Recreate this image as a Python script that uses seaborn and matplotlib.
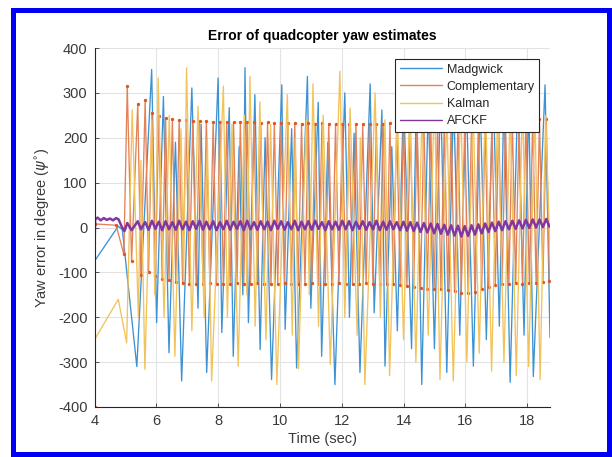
import matplotlib
matplotlib.use("Agg")
import matplotlib.pyplot as plt
import numpy as np
import pandas as pd
import seaborn as sns
from matplotlib.patches import Rectangle

# ---------------- data ----------------
series_names = ["Madgwick", "Complementary", "Kalman", "AFCKF"]

madgwick_t = [4.00, 4.77, 4.90, 5.37, 5.85, 6.01, 6.23, 6.41, 6.62, 6.82,
              7.15, 7.35, 7.45, 7.63, 8.00, 8.12, 8.36, 8.49, 8.68, 8.80,
              8.87, 8.98, 9.19, 9.36, 9.52, 9.73, 10.06, 10.17, 10.38, 10.54,
              10.89, 11.00, 11.24, 11.35, 11.55, 11.78, 12.10, 12.25, 12.40, 12.59,
              12.92, 13.05, 13.30, 13.40, 13.62, 13.80, 14.00, 14.26, 14.42, 14.59,
              14.80, 15.00, 15.20, 15.40, 15.62, 15.82, 16.03, 16.26, 16.48, 16.68,
              16.90, 17.10, 17.25, 17.45, 17.70, 17.90, 18.05, 18.20, 18.58, 18.74]
madgwick = [-75, 3, -5, -310, 352, -212, 292, -279, 190, -342,
            311, -180, 230, -323, 333, -234, 267, -287, 180, -150,
            356, -212, 296, -272, 200, -339, 318, -227, 220, -313,
            337, -180, 279, -287, 190, -350, 300, -200, 210, -323,
            320, -190, 262, -309, 180, -230, 290, -270, 300, -350,
            280, -270, 310, -323, 290, -240, 300, -309, 285, -250,
            320, -220, 295, -345, 305, -240, 290, -332, 318, -245]

kalman_t = [4.00, 4.77, 5.04, 5.22, 5.42, 5.50, 5.63, 5.85, 5.95, 6.06,
            6.25, 6.42, 6.60, 6.80, 6.88, 6.98, 7.15, 7.35, 7.55, 7.65,
            7.79, 8.17, 8.30, 8.45, 8.65, 8.85, 8.93, 9.03, 9.20, 9.35,
            9.55, 9.70, 9.90, 10.24, 10.40, 10.50, 10.60, 10.85, 10.95, 11.07,
            11.25, 11.40, 11.63, 11.94, 12.10, 12.27, 12.50, 12.60, 12.75, 13.08,
            13.25, 13.40, 13.55, 13.80, 14.00, 14.20, 14.40, 14.60, 14.80, 15.00,
            15.18, 15.40, 15.61, 15.85, 16.05, 16.25, 16.45, 16.65, 16.85, 17.05,
            17.25, 17.45, 17.65, 17.85, 18.05, 18.25, 18.42, 18.60, 18.74]
kalman = [-250, -160, -257, 262, -200, 150, -316, 240, -150, 333,
          -200, 250, -287, 220, -120, 356, -230, 270, -200, 200,
          -342, 315, -200, 230, -309, 250, -150, 337, -220, 280,
          -250, 230, -350, 296, -240, 200, -315, 240, -150, 320,
          -220, 250, -305, 348, -200, 266, -240, 200, -350, 300,
          -200, 240, -330, 260, -250, 280, -300, 260, -240, 300,
          -339, 260, -342, 280, -300, 270, -280, 290, -320, 270,
          -300, 260, -330, 280, -310, 260, -339, 250, -60]

comp_early_t = [4.00, 4.01, 4.70, 4.95]
comp_early = [-400, 8, 5, -60]

afckf_early_t = [4.00, 4.02, 4.10, 4.20, 4.30, 4.40, 4.50, 4.60, 4.70, 4.78, 4.88, 4.97]
afckf_early = [-45, 18, 22, 16, 21, 17, 20, 16, 21, 18, 2, -8]

fast_t = [5.06, 5.20, 5.40, 5.50, 5.64, 5.75, 5.86, 5.97, 6.08, 6.19,
          6.30, 6.41, 6.52, 6.63, 6.74, 6.85, 6.96, 7.07, 7.18, 7.29,
          7.40, 7.51, 7.62, 7.73, 7.84, 7.95, 8.06, 8.17, 8.28, 8.39,
          8.50, 8.61, 8.72, 8.83, 8.94, 9.05, 9.16, 9.27, 9.38, 9.49,
          9.60, 9.71, 9.82, 9.93, 10.04, 10.15, 10.26, 10.37, 10.48, 10.59,
          10.70, 10.81, 10.92, 11.03, 11.14, 11.25, 11.36, 11.47, 11.58, 11.69,
          11.80, 11.91, 12.02, 12.13, 12.24, 12.35, 12.46, 12.57, 12.68, 12.79,
          12.90, 13.01, 13.12, 13.23, 13.34, 13.45, 13.56, 13.67, 13.78, 13.89,
          14.00, 14.11, 14.22, 14.33, 14.44, 14.55, 14.66, 14.77, 14.88, 14.99,
          15.10, 15.21, 15.32, 15.43, 15.54, 15.65, 15.76, 15.87, 15.98, 16.09,
          16.20, 16.31, 16.42, 16.53, 16.64, 16.75, 16.86, 16.97, 17.08, 17.19,
          17.30, 17.41, 17.52, 17.63, 17.74, 17.85, 17.96, 18.07, 18.18, 18.29,
          18.40, 18.51, 18.62, 18.72]
comp_fast = [315, -75, 276, -105, 285, -100, 255, -108, 248, -115,
             244, -118, 242, -122, 240, -124, 240, -125, 238, -126,
             237, -125, 238, -124, 236, -125, 235, -126, 236, -125,
             234, -124, 235, -126, 234, -125, 235, -124, 233, -125,
             234, -126, 233, -125, 232, -124, 233, -125, 232, -126,
             231, -125, 232, -124, 231, -125, 232, -126, 231, -125,
             230, -124, 231, -125, 230, -126, 231, -125, 230, -124,
             231, -125, 230, -126, 231, -125, 232, -127, 231, -128,
             232, -130, 231, -132, 232, -135, 232, -136, 233, -138,
             232, -137, 233, -140, 232, -142, 233, -145, 232, -146,
             233, -143, 234, -138, 235, -132, 236, -128, 236, -126,
             237, -125, 238, -124, 238, -125, 239, -124, 240, -123,
             241, -122, 242, -120]
afckf_fast = [10, -6, 14, -4, 12, -5, 15, -3, 13, -6,
              14, -4, 12, -5, 15, -4, 13, -6, 14, -3,
              15, -5, 13, -4, 14, -6, 12, -4, 15, -5,
              13, -3, 14, -6, 15, -4, 12, -5, 14, -4,
              13, -6, 15, -3, 14, -5, 12, -4, 15, -6,
              13, -4, 14, -5, 15, -3, 12, -6, 14, -4,
              13, -5, 15, -4, 14, -6, 13, -3, 14, -5,
              12, -4, 15, -6, 13, -5, 14, -4, 12, -6,
              13, -7, 12, -8, 11, -10, 10, -11, 9, -13,
              8, -14, 6, -16, 5, -18, 4, -20, 3, -19,
              5, -16, 7, -13, 9, -10, 11, -8, 13, -6,
              14, -4, 15, -3, 16, -2, 17, -1, 18, 0,
              18, 1, 19, 2]

x_ticks = [4, 6, 8, 10, 12, 14, 16, 18]
y_ticks = [-400, -300, -200, -100, 0, 100, 200, 300, 400]

line_colors = {"Madgwick": "#3d92d3", "Complementary": "#e2825a",
               "Kalman": "#f1c35a", "AFCKF": "#8236a0"}
marker_color = "#dc5620"

# ---------------- figure ----------------
sns.set_theme(style="white")
plt.rcParams["font.family"] = ["Liberation Sans", "DejaVu Sans"]
plt.rcParams["mathtext.fontset"] = "dejavusans"
plt.rcParams["axes.unicode_minus"] = False

W, H = 612, 457
fig = plt.figure(figsize=(W / 100, H / 100), dpi=100)
fig.patch.set_facecolor("white")
ax_l, ax_r, ax_t, ax_b = 94.5, 550, 48, 407
ax = fig.add_axes([ax_l / W, 1 - ax_b / H, (ax_r - ax_l) / W, (ax_b - ax_t) / H])

df_m = pd.DataFrame({"t": madgwick_t, "v": madgwick})
df_c = pd.DataFrame({"t": comp_early_t + fast_t, "v": comp_early + comp_fast})
df_k = pd.DataFrame({"t": kalman_t, "v": kalman})
df_a = pd.DataFrame({"t": afckf_early_t + fast_t, "v": afckf_early + afckf_fast})

sns.lineplot(data=df_m, x="t", y="v", ax=ax, sort=False, estimator=None,
             color=line_colors["Madgwick"], lw=0.95, label="Madgwick")
sns.lineplot(data=df_c, x="t", y="v", ax=ax, sort=False, estimator=None,
             color=line_colors["Complementary"], lw=0.95, label="Complementary",
             marker="o", markersize=2.4, markeredgewidth=0,
             markerfacecolor=marker_color)
sns.lineplot(data=df_k, x="t", y="v", ax=ax, sort=False, estimator=None,
             color=line_colors["Kalman"], lw=0.95, label="Kalman")
sns.lineplot(data=df_a, x="t", y="v", ax=ax, sort=False, estimator=None,
             color=line_colors["AFCKF"], lw=1.8, label="AFCKF")

ax.set_xlim(4, 18.74)
ax.set_ylim(-400, 400)
ax.set_xticks(x_ticks)
ax.set_yticks(y_ticks)
ax.grid(True, color="#e3e3e3", lw=0.8)
ax.set_axisbelow(True)
for s in ["top", "right"]:
    ax.spines[s].set_visible(False)
for s in ["left", "bottom"]:
    ax.spines[s].set_color("#262626")
    ax.spines[s].set_linewidth(0.8)
ax.tick_params(direction="in", length=3, width=0.6, colors="#3a3a3a",
               labelsize=10.5, pad=5, bottom=True, left=True)

ax.set_title("Error of quadcopter yaw estimates", fontsize=10,
             fontweight="bold", pad=6, color="black")
ax.set_xlabel("Time (sec)", fontsize=10.5, labelpad=3, color="#3a3a3a")
ax.set_ylabel(r"Yaw error in degree ($\psi^{\circ}$)", fontsize=10.5,
              labelpad=4, color="#3a3a3a")

leg = ax.legend(loc="upper right", bbox_to_anchor=(0.976, 0.969),
                borderaxespad=0, fontsize=9, frameon=True, fancybox=False,
                edgecolor="#262626", framealpha=1, handlelength=3.4,
                handletextpad=0.35, labelspacing=0.42, borderpad=0.35)
leg.get_frame().set_linewidth(0.8)
for h in leg.legend_handles:
    h.set_marker("")
    h.set_linewidth(1.0)

# blue frame around the figure
fig.patches.append(Rectangle((12.5 / W, 3.5 / H), 596 / W, 444 / H,
                             transform=fig.transFigure, fill=False,
                             edgecolor="#0000f5", lw=3.6, zorder=10))

fig.savefig("out.png", dpi=100, facecolor="white")
